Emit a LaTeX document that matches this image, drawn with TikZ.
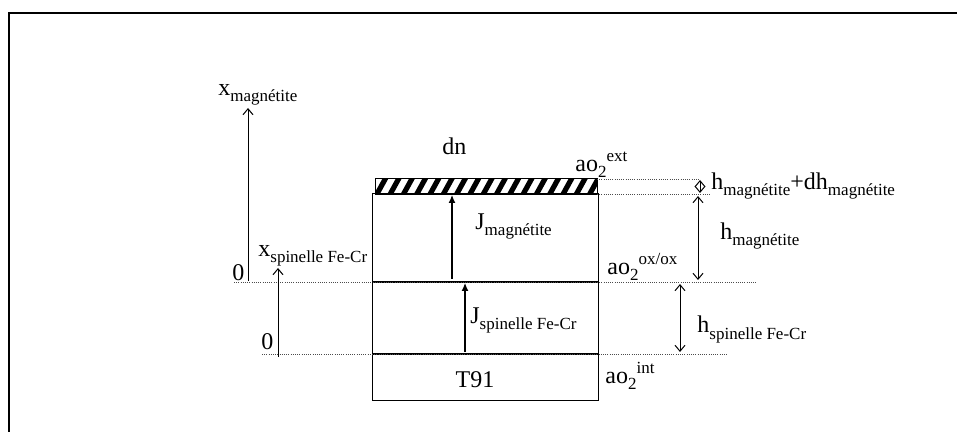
\documentclass[tikz,border=0pt]{standalone}
\usepackage{fontspec}
\setmainfont{Liberation Serif}
\usetikzlibrary{arrows.meta}
\newcommand{\lsub}[1]{\raisebox{-3pt}{\fontsize{8.5}{10}\selectfont #1}}
\newcommand{\lsup}[1]{\raisebox{5pt}{\fontsize{8.5}{10}\selectfont #1}}
\begin{document}
\begin{tikzpicture}[
        x=0.5pt, y=-0.5pt,
        every node/.style={font=\fontsize{12}{14}\selectfont, inner sep=0pt},
        lbl/.style={anchor=base west},
        layer/.style={draw, line width=0.5pt},
        guide/.style={line width=0.4pt, black!70, dash pattern=on 0.5pt off 0.6pt},
        axis/.style={-{Straight Barb[length=3pt,width=5pt]}, line width=0.5pt},
        flux/.style={-{Latex[length=4pt,width=3.5pt]}, line width=0.6pt},
        span/.style={{Straight Barb[length=3pt,width=5pt]}-{Straight Barb[length=3pt,width=5pt]}, line width=0.5pt},
        hatchline/.style={line width=2.6pt}
    ]
    \useasboundingbox (0,0) rectangle (957,432);
    \draw[line width=1pt] (8.5,432) -- (8.5,13.5) -- (957,13.5);

    % layers
    \coordinate (hatchTL) at (375,179);
    \coordinate (hatchBR) at (597,195);
    \coordinate (boxTL) at (372,194);
    \coordinate (boxBR) at (598,400);
    \coordinate (oxL) at (372,282);
    \coordinate (oxR) at (598,282);
    \coordinate (intL) at (372,354);
    \coordinate (intR) at (598,354);
    \begin{scope}
        \clip (hatchTL) rectangle (hatchBR);
        \foreach \i in {0,...,18}
            \draw[hatchline] ({362+13.3*\i},197) -- ++(11,-20);
    \end{scope}
    \draw[line width=0.5pt] (hatchTL) rectangle (hatchBR);
    \draw[layer] (boxTL) rectangle (boxBR);
    \draw[line width=1pt] (oxL) -- (oxR);
    \draw[line width=1.4pt] (intL) -- (intR);

    % guides
    \coordinate (gExtL) at (597,179);
    \coordinate (gExtR) at (700,179);
    \coordinate (gTopL) at (597,194);
    \coordinate (gTopR) at (710,194);
    \coordinate (gOxL) at (234,282);
    \coordinate (gOxR) at (756,282);
    \coordinate (gIntL) at (262,354);
    \coordinate (gIntR) at (728,354);
    \draw[guide] (gExtL) -- (gExtR);
    \draw[guide] (gTopL) -- (gTopR);
    \draw[guide] (gOxL) -- (gOxR);
    \draw[guide] (gIntL) -- (gIntR);

    % axes
    \coordinate (xMagA) at (248,281);
    \coordinate (xMagB) at (248,108);
    \coordinate (xSpA) at (278,357);
    \coordinate (xSpB) at (278,268);
    \draw[axis] (xMagA) -- (xMagB);
    \draw[axis] (xSpA) -- (xSpB);
    \node[lbl] (xmag) at (218,96) {x\lsub{magnétite}};
    \node[lbl] (xsp) at (258,257) {x\lsub{spinelle Fe-Cr}};
    \node[lbl] (zeroMag) at (232,281) {0};
    \node[lbl] (zeroSp) at (261,350) {0};

    % fluxes
    \coordinate (jMagA) at (452,279);
    \coordinate (jMagB) at (452,195);
    \coordinate (jSpA) at (465,352);
    \coordinate (jSpB) at (465,283);
    \draw[flux] (jMagA) -- (jMagB);
    \draw[flux] (jSpA) -- (jSpB);
    \node[lbl] (jmag) at (475,230) {J\lsub{magnétite}};
    \node[lbl] (jsp) at (470,323) {J\lsub{spinelle Fe-Cr}};
    \node[anchor=base] (t91) at (475,387) {T91};

    % activities
    \node[lbl] (dn) at (442,155) {dn};
    \node[lbl] (aoExt) at (575,172) {ao\lsub{2}\lsup{ext}};
    \node[lbl] (aoOx) at (607,275) {ao\lsub{2}\lsup{ox/ox}};
    \node[lbl] (aoInt) at (605,383) {ao\lsub{2}\lsup{int}};

    % thicknesses
    \coordinate (dhA) at (700,180);
    \coordinate (dhB) at (700,193);
    \coordinate (hMagA) at (698,196);
    \coordinate (hMagB) at (698,280);
    \coordinate (hSpA) at (680,284);
    \coordinate (hSpB) at (680,352);
    \draw[span] (dhA) -- (dhB);
    \draw[span] (hMagA) -- (hMagB);
    \draw[span] (hSpA) -- (hSpB);
    \node[lbl] (hdh) at (711,190) {h\lsub{magnétite}+dh\lsub{magnétite}};
    \node[lbl] (hmag) at (720,240) {h\lsub{magnétite}};
    \node[lbl] (hsp) at (697,333) {h\lsub{spinelle Fe-Cr}};
\end{tikzpicture}
\end{document}
